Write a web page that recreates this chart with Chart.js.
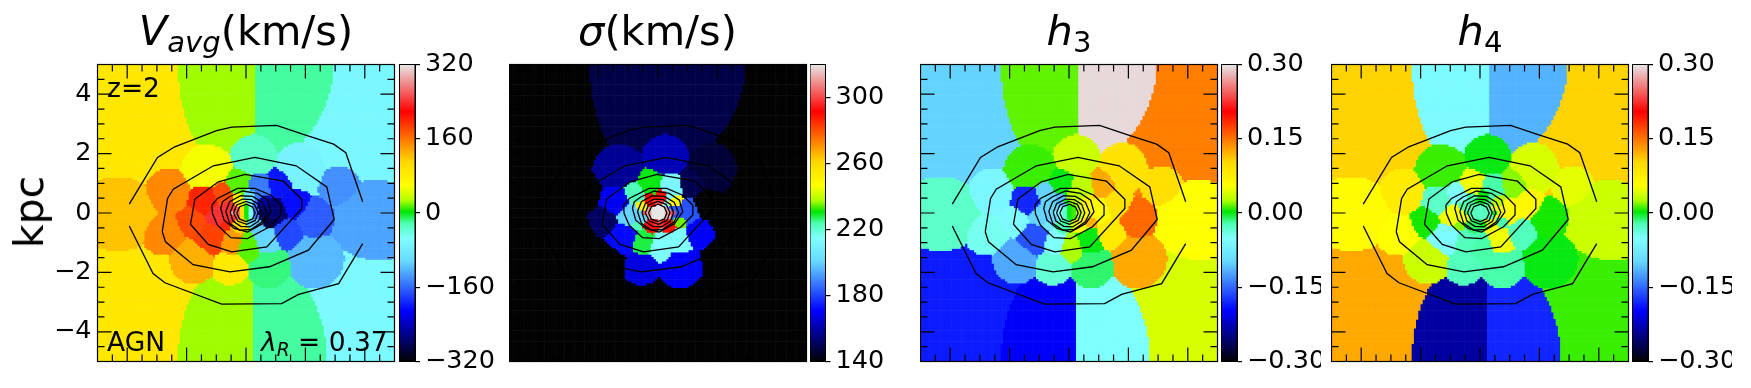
<!DOCTYPE html>
<html>
<head>
<meta charset="utf-8">
<script src="https://cdn.jsdelivr.net/npm/chart.js@4"></script>
<style>
  html, body { margin: 0; background: #fff; }
  body { position: relative; width: 1751px; height: 388px; overflow: hidden; font-family: "DejaVu Sans", sans-serif; color: #000; }
  canvas { position: absolute; }
  .label { position: absolute; white-space: nowrap; z-index: 5; }
  .title { font-size: 41.5px; line-height: 46px; top: 8px; transform: translateX(-50%); }
  .note { font-size: 26.5px; line-height: 30px; }
  sub { font-size: 0.7em; line-height: 0; vertical-align: -0.25em; }
</style>
</head>
<body>
<div class="label title" style="left:246px"><i>V</i><sub><i>avg</i></sub>(km/s)</div>
<div class="label title" style="left:657.5px"><i>σ</i>(km/s)</div>
<div class="label title" style="left:1069px"><i>h</i><sub>3</sub></div>
<div class="label title" style="left:1480px"><i>h</i><sub>4</sub></div>
<div class="label" style="left:29px;top:212px;font-size:41px;transform:translate(-50%,-50%) rotate(-90deg)">kpc</div>
<div class="label note" style="left:107px;top:73px">z=2</div>
<div class="label note" style="left:107px;top:327px">AGN</div>
<div class="label note" style="left:261px;top:327px"><i>λ</i><sub><i>R</i></sub> = 0.37</div>
<script>
/* Voronoi bins: centre (kpc), weight, then the value of each map */
const binX = [-4,-.95,1.5,5.2,-4.3,4.45,-4,-1,1.5,4.3,
  -1.3,.25,1.85,3.2,-2.6,2.35,-2.8,-1.8,-.55,.8,2.4,
  -.25,.42,1.1,1.65,1.38,.7,.07,-.47,-1.13,-1.8,-1.37,-.8,-.95,.98,
  .15,.65,.78,.43,-.25,-.72,-.6,-.3,
  -.3,-.15,0,.15,.3,-.3,-.15,0,.15,.3,-.13,.13,-.13,.13,-.48,.5];
const binY = [5.5,5.2,5.2,5.5,-.05,-.2,-5.4,-5.2,-5.2,-5.5,
  1.5,1.95,1.6,.95,.75,-.16,-.75,-1.7,-1.85,-1.9,-1.75,
  1.03,.9,1,.3,-.7,-.95,-1.18,-1.02,-.85,-.28,.4,.65,-.05,.05,
  .65,.4,-.3,-.5,-.5,-.42,.25,.5,
  .12,.12,.12,.12,.12,-.12,-.12,-.12,-.12,-.12,.4,.4,-.4,-.4,0,0];
const binScale = [3.7,2.8,2.8,4.5,1.1,1.35,3.7,2.8,2.8,3.85,
  .78,.72,.78,.66,.68,.6,.63,.72,.6,.66,.9,
  .5,.5,.5,.5,.5,.5,.5,.5,.6,.5,.6,.5,.55,.5,
  .26,.26,.26,.26,.26,.26,.26,.26,
  .11,.11,.11,.11,.11,.11,.11,.11,.11,.11,.11,.11,.11,.11,.11,.11];
const velValues = [90,25,-20,-65,120,-130,90,25,-20,-60,
  55,-30,-70,-140,150,-165,150,130,85,-15,-120,
  15,-150,-200,-205,-175,-105,15,140,185,180,200,180,240,-270,
  -90,-250,-290,-110,110,200,240,70,
  260,100,5,-60,-150,260,100,5,-60,-150,40,-60,90,-100,290,-280];
const sigValues = [140,149,149,140,140,140,140,140,140,140,
  158,162,147,140,140,140,140,140,167,170,140,
  230,212,150,140,170,215,214,228,172,152,169,223,200,182,
  289,248,235,289,293,223,252,291,
  311,320,320,320,311,311,320,320,320,311,298,298,298,298,302,302];
const h3Values = [-.1,.015,.295,.145,-.03,.055,-.185,-.2,-.05,.04,
  .01,.035,.09,.095,-.06,.155,-.045,-.12,-.035,-.012,.125,
  0,.03,.125,.09,.08,0,.025,-.05,-.16,-.055,-.18,-.1,-.1,.06,
  .03,.07,.12,.06,-.02,-.08,-.1,-.11,
  -.05,-.03,0,.01,.03,-.05,-.03,0,.01,.03,0,.03,-.02,.04,-.06,.05];
const h4Values = [.105,-.055,-.115,.105,.06,.035,.125,-.235,-.18,.01,
  .01,0,.04,.045,.08,.005,.055,.035,-.025,-.02,0,
  .05,-.02,.02,.065,-.025,.05,-.02,-.025,-.055,.005,-.03,-.05,.05,.06,
  0,.03,-.02,.05,-.01,.02,-.02,-.02,
  -.025,-.025,-.03,-.025,-.025,-.025,-.025,-.03,-.025,-.025,0,0,-.01,0,-.01,0];

/* surface brightness contours, same in all four maps */
const contourUpperArc = [[-3.93,.3],[-2.98,1.87],[-2.4,2.23],[-.99,2.77],[-.48,2.89],[1.03,2.95],[1.93,2.65],[2.95,2.32],[3.36,2.03],[3.93,.38]];
const contourLowerArc = [[-3.93,-.44],[-3.13,-2.04],[-2.73,-2.35],[-.82,-3.07],[1.2,-3.05],[1.77,-2.74],[3.12,-2.38],[3.93,-1.03]];
const contour2 = [[-2.82,-.63],[-2.64,.49],[-2.45,.8],[-1.1,1.59],[.3,1.87],[1.69,1.59],[2.72,.88],[2.97,-.22],[2.1,-1.25],[.79,-1.81],[-.54,-1.98],[-1.78,-1.74],[-2.71,-.97]];
const contour3 = [[-1.87,-.38],[-1.72,.47],[-.93,1.05],[-.03,1.3],[1.26,1.07],[1.88,.46],[1.88,.15],[.7,-1.14],[-.48,-1.31],[-1.27,-1.06]];
const contour4 = [[-1.15,.26],[-.96,.49],[-.29,.83],[.3,.83],[.84,.6],[1.18,.26],[1.18,-.07],[.78,-.47],[.05,-.86],[-.51,-.83],[-.96,-.41],[-1.13,-.02]];
const contour5 = [[-.79,.38],[-.57,.54],[-.12,.74],[.39,.66],[.73,.43],[.84,.04],[.56,-.36],[.05,-.64],[-.4,-.52],[-.74,-.24],[-.85,.15]];
const contour6 = [[-.68,.05],[-.55,.38],[-.18,.58],[.22,.56],[.55,.36],[.7,.02],[.55,-.3],[.18,-.55],[-.2,-.58],[-.55,-.35]];
const contour7 = [[-.53,.02],[-.42,.31],[-.12,.47],[.18,.45],[.43,.29],[.53,0],[.42,-.28],[.12,-.47],[-.18,-.45],[-.44,-.27]];
const contour8 = [[-.42,0],[-.31,.27],[0,.39],[.28,.29],[.41,.02],[.31,-.25],[.02,-.38],[-.28,-.27]];
const contour9 = [[-.31,0],[-.21,.21],[.02,.3],[.22,.2],[.31,0],[.22,-.2],[0,-.29],[-.22,-.2]];
const openContours = [contourUpperArc, contourLowerArc];
const closedContours = [contour2, contour3, contour4, contour5, contour6, contour7, contour8, contour9];

const yTickValues = [-4, -2, 0, 2, 4];
const majorTicks = [-4, -2, 0, 2, 4];
const minorTicks = [-4.5, -3.5, -3, -2.5, -1.5, -1, -.5, .5, 1, 1.5, 2.5, 3, 3.5, 4.5];

const velBarTicks = [-320, -160, 0, 160, 320];
const sigBarTicks = [140, 180, 220, 260, 300];
const hBarTicks = [-.3, -.15, 0, .15, .3];

/* sauron style colormap */
const cmapPos = [1, 43.5, 86, 106, 118.5, 128.5, 138.5, 151, 171, 214.5, 255];
const cmapR = [.01, 0, .4, .5, .3, 0, .7, 1, 1, 1, .9];
const cmapG = [.01, 0, .85, 1, 1, .9, 1, 1, .85, 0, .9];
const cmapB = [.01, 1, 1, 1, .7, 0, 0, 0, 0, 0, .9];

Chart.defaults.font.family = '"DejaVu Sans", sans-serif';
Chart.defaults.font.size = 25.5;
Chart.defaults.color = '#000';
Chart.defaults.animation = false;

const PANEL_TOP = 64.5, PANEL_SIZE = 297, PAD = 14;
const CELL = 10 / 134;

function cmapColor(f) {
    const p = Math.min(255, Math.max(1, f * 255));
    let i = 0;
    while (i < cmapPos.length - 2 && p > cmapPos[i + 1]) i++;
    const t = (p - cmapPos[i]) / (cmapPos[i + 1] - cmapPos[i]);
    const mix = c => Math.round(255 * (c[i] + (c[i + 1] - c[i]) * t));
    return `rgb(${mix(cmapR)},${mix(cmapG)},${mix(cmapB)})`;
}

// pixels of the map, grouped by the bin they fall in
const binCells = binX.map(() => []);
for (let i = 0; i < 134; i++) {
    for (let j = 0; j < 134; j++) {
        const x = -5 + (i + .5) * CELL, y = -5 + (j + .5) * CELL;
        let best = 0, bestD = Infinity;
        for (let b = 0; b < binX.length; b++) {
            const d = ((x - binX[b]) ** 2 + (y - binY[b]) ** 2) / binScale[b] ** 2;
            if (d < bestD) { bestD = d; best = b; }
        }
        binCells[best].push({ x, y });
    }
}

const toPoints = list => list.map(p => ({ x: p[0], y: p[1] }));

const frameTicks = {
    id: 'frameTicks',
    afterDatasetsDraw(chart) {
        const { ctx, chartArea: a, scales: { x, y } } = chart;
        ctx.save();
        ctx.strokeStyle = '#000';
        ctx.lineWidth = 1.2;
        const draw = (list, len) => {
            ctx.beginPath();
            for (const v of list) {
                const px = x.getPixelForValue(v), py = y.getPixelForValue(v);
                ctx.moveTo(px, a.top); ctx.lineTo(px, a.top + len);
                ctx.moveTo(px, a.bottom); ctx.lineTo(px, a.bottom - len);
                ctx.moveTo(a.left, py); ctx.lineTo(a.left + len, py);
                ctx.moveTo(a.right, py); ctx.lineTo(a.right - len, py);
            }
            ctx.stroke();
        };
        draw(majorTicks, 14);
        draw(minorTicks, 7);
        ctx.strokeRect(a.left, a.top, a.width, a.height);
        ctx.restore();
    }
};

function addCanvas(left, top, width, height) {
    const c = document.createElement('canvas');
    c.width = width; c.height = height;
    c.style.left = left + 'px'; c.style.top = top + 'px';
    document.body.appendChild(c);
    return c.getContext('2d');
}

// the tick labels may hang over the plot, they must not shrink it
function fixAxis(s, width) {
    s.width = width;
    s.paddingTop = 0;
    s.paddingBottom = 0;
}

function makeMap(left, values, vmin, vmax, showY) {
    const axisW = showY ? 60 : 0;
    const cvLeft = Math.floor(left) - axisW;
    const top = Math.floor(PANEL_TOP) - PAD;
    const datasets = [];
    for (const c of openContours) {
        datasets.push({ data: toPoints(c), showLine: true, borderColor: '#000', borderWidth: 1.3, pointRadius: 0, order: 0 });
    }
    for (const c of closedContours) {
        datasets.push({ data: toPoints(c.concat([c[0]])), showLine: true, borderColor: '#000', borderWidth: 1.3, pointRadius: 0, order: 0 });
    }
    binCells.forEach((cells, b) => {
        datasets.push({
            data: cells,
            pointStyle: 'rect',
            pointRadius: 2,
            pointBorderWidth: 0,
            backgroundColor: cmapColor((values[b] - vmin) / (vmax - vmin)),
            order: 1
        });
    });
    return new Chart(addCanvas(cvLeft, top, axisW + PANEL_SIZE + 4, PANEL_SIZE + 2 * PAD + 2), {
        type: 'scatter',
        data: { datasets },
        options: {
            responsive: false,
            events: [],
            layout: { autoPadding: false, padding: { left: left - Math.floor(left), top: PAD + PANEL_TOP - Math.floor(PANEL_TOP), right: 3.5, bottom: PAD + 1.5 } },
            plugins: { legend: { display: false }, tooltip: { enabled: false } },
            scales: {
                x: { min: -5, max: 5, display: false },
                y: {
                    min: -5, max: 5, display: showY,
                    afterBuildTicks: s => { s.ticks = yTickValues.map(value => ({ value })); },
                    afterFit: s => fixAxis(s, axisW),
                    grid: { drawOnChartArea: false, drawTicks: false },
                    border: { display: false },
                    ticks: { padding: 6, autoSkip: false, callback: v => String(v).replace('-', '\u2212') }
                }
            }
        },
        plugins: [frameTicks]
    });
}

function makeBar(left, vmin, vmax, ticks, format) {
    const cvLeft = Math.floor(left);
    const top = Math.floor(PANEL_TOP) - PAD;
    return new Chart(addCanvas(cvLeft, top, 100, PANEL_SIZE + 2 * PAD + 2), {
        type: 'bar',
        data: {
            labels: [''],
            datasets: [{
                data: [[vmin, vmax]],
                barPercentage: 1,
                categoryPercentage: 1,
                backgroundColor(ctx) {
                    const a = ctx.chart.chartArea;
                    if (!a) return '#000';
                    const g = ctx.chart.ctx.createLinearGradient(0, a.bottom, 0, a.top);
                    cmapPos.forEach((p, i) => {
                        g.addColorStop(i === 0 ? 0 : p / 255, cmapColor(p / 255));
                    });
                    return g;
                }
            }]
        },
        options: {
            responsive: false,
            events: [],
            layout: { autoPadding: false, padding: { left: left - cvLeft, top: PAD + PANEL_TOP - Math.floor(PANEL_TOP), right: 0, bottom: PAD + 1.5 } },
            plugins: { legend: { display: false }, tooltip: { enabled: false } },
            scales: {
                x: { display: false },
                y: {
                    position: 'right',
                    min: vmin, max: vmax,
                    afterBuildTicks: s => { s.ticks = ticks.map(value => ({ value })); },
                    afterFit: s => fixAxis(s, 100 - 15.5 - (left - cvLeft)),
                    grid: { drawOnChartArea: false, tickLength: 5, color: '#000', lineWidth: 1.2 },
                    border: { display: true, color: '#000', width: 1 },
                    ticks: { padding: 5, autoSkip: false, callback: format }
                }
            }
        },
        plugins: [{
            id: 'barFrame',
            afterDatasetsDraw(chart) {
                const { ctx, chartArea: a } = chart;
                ctx.save();
                ctx.strokeStyle = '#000';
                ctx.lineWidth = 1;
                ctx.strokeRect(a.left, a.top, a.width, a.height);
                ctx.restore();
            }
        }]
    });
}

const fmtInt = v => String(v).replace('-', '\u2212');
const fmtTwo = v => v.toFixed(2).replace('-', '\u2212');

makeMap(97.5, velValues, -320, 320, true);
makeMap(509, sigValues, 140, 320, false);
makeMap(920.5, h3Values, -.3, .3, false);
makeMap(1331.5, h4Values, -.3, .3, false);

makeBar(399.5, -320, 320, velBarTicks, fmtInt);
makeBar(810, 140, 320, sigBarTicks, fmtInt);
makeBar(1221.5, -.3, .3, hBarTicks, fmtTwo);
makeBar(1632.5, -.3, .3, hBarTicks, fmtTwo);
</script>
</body>
</html>
